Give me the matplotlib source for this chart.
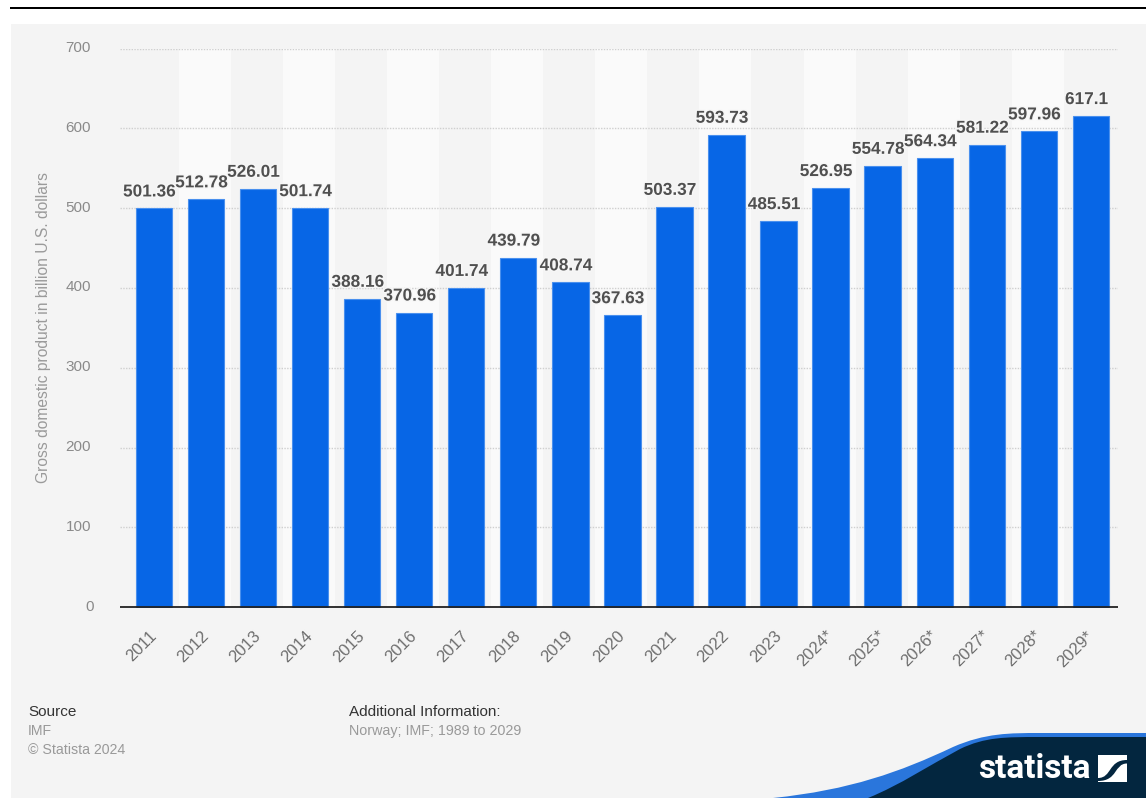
import matplotlib
matplotlib.use("Agg")
import matplotlib.pyplot as plt
import matplotlib.patheffects as pe
from matplotlib.patches import PathPatch, Rectangle
from matplotlib.path import Path

plt.rcParams["font.family"] = ["Liberation Sans", "DejaVu Sans"]

years = ["2011", "2012", "2013", "2014", "2015", "2016", "2017", "2018", "2019", "2020",
         "2021", "2022", "2023", "2024*", "2025*", "2026*", "2027*", "2028*", "2029*"]
gdp = [501.36, 512.78, 526.01, 501.74, 388.16, 370.96, 401.74, 439.79, 408.74, 367.63,
       503.37, 593.73, 485.51, 526.95, 554.78, 564.34, 581.22, 597.96, 617.1]
y_ticks = [0, 100, 200, 300, 400, 500, 600, 700]

W, H = 1146, 798
BAR = "#0766e6"
BG = "#f4f4f4"
fig = plt.figure(figsize=(W / 100, H / 100), dpi=100, facecolor="white")

# Full-figure layer in pixel coordinates for the panel, rule and logo
page = fig.add_axes([0, 0, 1, 1], zorder=0)
page.set_xlim(0, W)
page.set_ylim(H, 0)
page.axis("off")
page.add_patch(Rectangle((11, 24), W - 11, H - 24, fc=BG, ec="none"))
page.add_patch(Rectangle((10, 7), W - 10, 2.4, fc="black", ec="none"))

left, right, top, bottom = 120, 1118, 48.6, 607.3
x = list(range(len(years)))
x_lim = (-0.65, 18.52)
BAR_DROP = 1.3


def chart_axes(drop, z):
    a = fig.add_axes([left / W, 1 - (bottom + drop) / H, (right - left) / W, (bottom - top) / H], zorder=z)
    a.patch.set_alpha(0)
    a.set_xlim(*x_lim)
    a.set_ylim(0, 700)
    a.tick_params(axis="both", length=0)
    a.set_xticks(x)
    a.set_xticklabels([])
    a.set_yticks(y_ticks)
    a.set_yticklabels([])
    for s in a.spines.values():
        s.set_visible(False)
    return a


# Background axes: column bands and dotted grid
ax = chart_axes(0, 1)
for i in x:
    if i % 2 == 1:
        ax.axvspan(i - 0.52, i + 0.48, fc="#fafafa", ec="none", zorder=0)
ax.grid(axis="y", color="#cfcfcf", lw=1, ls=(0, (1, 1)), zorder=1)
ax.set_axisbelow(True)

# Foreground axes: bars and their value labels
bx = chart_axes(BAR_DROP, 2)
bx.bar(x, gdp, width=0.7, color=BAR, edgecolor="#4a90ee", linewidth=0.8, zorder=2)
halo = [pe.withStroke(linewidth=2, foreground="#f7f7f7")]
for xi, v in zip(x, gdp):
    bx.annotate(f"{v:g}", (xi, v), xytext=(-4.3, 9), textcoords="offset pixels",
                ha="center", va="bottom", fontsize=12.4, fontweight="bold",
                color="#505050", path_effects=halo, zorder=3)

# Baseline on top of the bars, with the panel colour masking the bar feet below it
cover = fig.add_axes([0, 0, 1, 1], zorder=3)
cover.set_xlim(0, W)
cover.set_ylim(H, 0)
cover.axis("off")
cover.add_patch(Rectangle((left, 607.5), right - left, 3, fc=BG, ec="none"))
cover.plot([left, right], [607.3, 607.3], color="#222222", lw=1.3, solid_capstyle="butt")

# Value axis labels
for t in y_ticks:
    page.text(94 if t == 0 else 91, 606.6 - t * 0.798, str(t),
              ha="right", va="center", fontsize=11, color="#8a8a8a")
page.text(44, 327.5, "Gross domestic product in billion U.S. dollars", rotation=90,
          ha="center", va="center", fontsize=11.25, color="#9a9a9a")

# Slanted year labels
for xi, lab in zip(x, years):
    px = left + (xi - x_lim[0]) / (x_lim[1] - x_lim[0]) * (right - left)
    page.text(px - 5, 628, lab, rotation=45, ha="right", va="top",
              rotation_mode="anchor", fontsize=12, color="#6e6e6e")

# Footer
page.text(28, 712, "Source", ha="left", va="center", fontsize=11, color="#333333")
page.text(28, 731, "IMF", ha="left", va="center", fontsize=10.2, color="#999999")
page.text(28, 750, "© Statista 2024", ha="left", va="center", fontsize=10.2, color="#999999")
page.text(349, 712, "Additional Information:", ha="left", va="center", fontsize=11, color="#333333")
page.text(349, 731, "Norway; IMF; 1989 to 2029", ha="left", va="center", fontsize=10.3, color="#999999")

# Logo swoosh
C4 = Path.CURVE4
swoosh = Path([(773, 798), (850, 790), (900, 772), (953, 747), (985, 733), (1010, 733), (1040, 733),
               (1146, 733), (1146, 798), (773, 798)],
              [Path.MOVETO, C4, C4, C4, C4, C4, C4, Path.LINETO, Path.LINETO, Path.CLOSEPOLY])
page.add_patch(PathPatch(swoosh, fc="#2a76dc", ec="none"))
navy = Path([(868, 798), (900, 785), (930, 765), (960, 749), (985, 737), (1005, 737), (1040, 737),
             (1146, 737), (1146, 798), (868, 798)],
            [Path.MOVETO, C4, C4, C4, C4, C4, C4, Path.LINETO, Path.LINETO, Path.CLOSEPOLY])
page.add_patch(PathPatch(navy, fc="#03263f", ec="none"))
page.text(978, 769, "statista", ha="left", va="center", fontsize=24, fontweight="bold",
          family="Roboto", color="white")

# Logo mark: white square crossed by a dark S-shaped band
page.add_patch(Rectangle((1098, 755), 29, 27, fc="white", ec="none"))
band = Path([(1098, 778), (1112, 778), (1108, 760), (1127, 760), (1127, 763.5), (1114, 763.5),
             (1118, 781), (1098, 781), (1098, 778)],
            [Path.MOVETO, C4, C4, C4, Path.LINETO, C4, C4, C4, Path.CLOSEPOLY])
page.add_patch(PathPatch(band, fc="#03263f", ec="none"))

fig.savefig("out.png", dpi=100)
